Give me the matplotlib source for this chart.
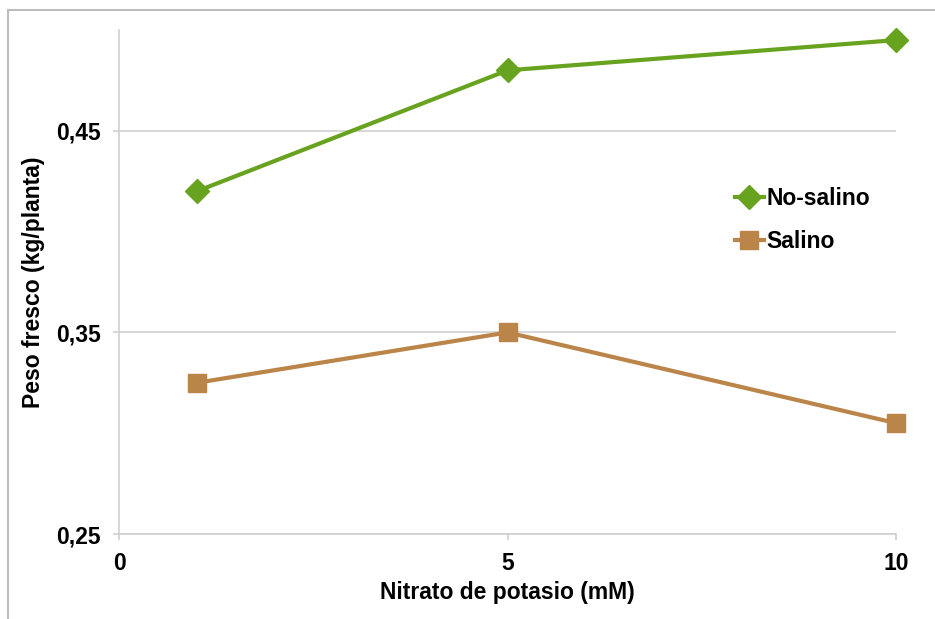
import matplotlib.pyplot as plt
from matplotlib.lines import Line2D
from matplotlib.ticker import FuncFormatter

# potassium nitrate dose (mM) and fresh weight per plant (kg)
nitrato = [1, 5, 10]
no_salino = [0.420, 0.480, 0.495]
salino = [0.325, 0.350, 0.305]

x_ticks = [0, 5, 10]
y_ticks = [0.25, 0.35, 0.45]

VERDE = "#67a31f"
MARRON = "#bb8449"
GRIS = "#d0d0d0"
FS = 16.5

plt.rcParams["font.family"] = ["Liberation Sans", "DejaVu Sans"]
plt.rcParams["font.weight"] = "bold"

fig = plt.figure(figsize=(9.35, 6.19), dpi=100)
ax = fig.add_axes([0.1273, 0.1373, 0.8310, 0.8142])

ax.plot(nitrato, no_salino, color=VERDE, lw=3, marker="D", ms=12,
        label="No-salino", zorder=3, clip_on=False)
ax.plot(nitrato, salino, color=MARRON, lw=3, marker="s", ms=13,
        label="Salino", zorder=3, clip_on=False)

ax.set_xlim(0, 10)
ax.set_ylim(0.25, 0.50)
ax.set_xticks(x_ticks)
ax.set_yticks(y_ticks)
ax.yaxis.set_major_formatter(FuncFormatter(lambda v, _: f"{v:.2f}".replace(".", ",")))
ax.grid(axis="y", color=GRIS, lw=1.2)
ax.set_axisbelow(True)

for side in ("top", "right"):
    ax.spines[side].set_visible(False)
for side in ("left", "bottom"):
    ax.spines[side].set_color(GRIS)
    ax.spines[side].set_linewidth(1.2)
ax.tick_params(axis="both", color=GRIS, width=1.2, length=4.3,
               labelsize=FS)
ax.tick_params(axis="x", pad=9)
ax.tick_params(axis="y", pad=9)
for lbl in ax.get_xticklabels() + ax.get_yticklabels():
    lbl.set_fontweight("bold")

ax.set_xlabel("Nitrato de potasio (mM)", fontsize=FS, fontweight="bold",
              labelpad=4)
ax.set_ylabel("Peso fresco (kg/planta)", fontsize=FS, fontweight="bold",
              labelpad=8)

ax.legend(loc="center left", bbox_to_anchor=(0.793, 0.623), frameon=False,
          fontsize=FS, handlelength=1.25, handletextpad=0.1,
          labelspacing=0.85, borderaxespad=0, borderpad=0)

# outer chart frame
fig.add_artist(Line2D([8 / 935, 8 / 935], [0, 1 - 10 / 619],
                      transform=fig.transFigure, color="#bdbdbd", lw=1.5))
fig.add_artist(Line2D([8 / 935, 1], [1 - 10 / 619, 1 - 10 / 619],
                      transform=fig.transFigure, color="#bdbdbd", lw=1.5))

fig.savefig("out.png", dpi=100)
